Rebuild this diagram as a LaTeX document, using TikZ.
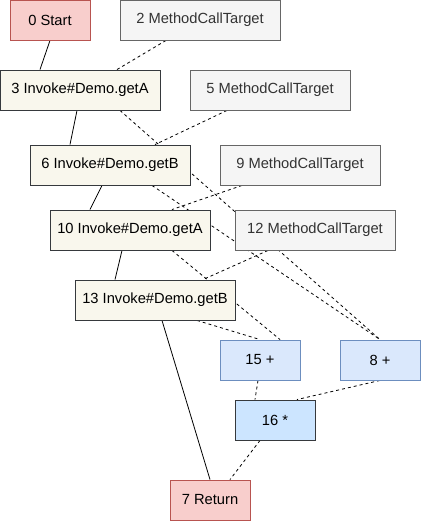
\documentclass[tikz,border=0pt]{standalone}
\usepackage{fontspec}
\setmainfont{Liberation Sans}
\usetikzlibrary{backgrounds}

\definecolor{endfill}{HTML}{F8CECC}
\definecolor{enddraw}{HTML}{B85450}
\definecolor{targetfill}{HTML}{F5F5F5}
\definecolor{targetdraw}{HTML}{666666}
\definecolor{targettext}{HTML}{333333}
\definecolor{invokefill}{HTML}{F9F7ED}
\definecolor{darkdraw}{HTML}{36393D}
\definecolor{opfill}{HTML}{DAE8FC}
\definecolor{opdraw}{HTML}{6C8EBF}
\definecolor{mulfill}{HTML}{CCE5FF}

\begin{document}
\begin{tikzpicture}[x=1pt,y=-1pt,
    box/.style={draw, line width=0.9pt, minimum height=40pt, inner sep=0pt,
      font=\fontsize{14.7}{17}\selectfont},
    endbox/.style={box, fill=endfill, draw=enddraw, minimum width=80pt},
    target/.style={box, fill=targetfill, draw=targetdraw, text=targettext, minimum width=160pt},
    invoke/.style={box, fill=invokefill, draw=darkdraw, minimum width=160pt},
    op/.style={box, fill=opfill, draw=opdraw, minimum width=80pt},
    mul/.style={box, fill=mulfill, draw=darkdraw, minimum width=80pt},
    ctrl/.style={line width=0.8pt},
    data/.style={line width=0.8pt, dash pattern=on 3pt off 3pt}]
    \useasboundingbox (0,0) rectangle (421,521);

    % control flow column
    \node[endbox] (n0) at (50,20) {0 Start};
    \node[invoke] (n3) at (80,90) {3 Invoke\#Demo.getA};
    \node[invoke] (n6) at (110,165) {6 Invoke\#Demo.getB};
    \node[invoke] (n10) at (130,230) {10 Invoke\#Demo.getA};
    \node[invoke] (n13) at (155,300) {13 Invoke\#Demo.getB};
    \node[endbox] (n7) at (210,500) {7 Return};

    % call targets
    \node[target] (n2) at (200,20) {2 MethodCallTarget};
    \node[target] (n5) at (270,90) {5 MethodCallTarget};
    \node[target] (n9) at (300,165) {9 MethodCallTarget};
    \node[target] (n12) at (315,230) {12 MethodCallTarget};

    % arithmetic
    \node[op] (n15) at (260,360) {15 +};
    \node[op] (n8) at (380,360) {8 +};
    \node[mul] (n16) at (275,420) {16 *};

    \begin{pgfonlayer}{background}
      \draw[ctrl] (n0.south) -- ([xshift=-40pt]n3.north);
      \draw[ctrl] ([xshift=-3pt]n3.south) -- ([xshift=-40pt]n6.north);
      \draw[ctrl] ([xshift=-8pt]n6.south) -- ([xshift=-40pt]n10.north);
      \draw[ctrl] ([xshift=-8pt]n10.south) -- ([xshift=-40pt]n13.north);
      \draw[ctrl] ([xshift=7pt]n13.south) -- (n7.north);

      \draw[data] ([xshift=-34pt]n2.south) -- ([xshift=37pt]n3.north);
      \draw[data] ([xshift=-43pt]n5.south) -- ([xshift=45pt]n6.north);
      \draw[data] ([xshift=-58pt]n9.south) -- ([xshift=42pt]n10.north);
      \draw[data] ([xshift=-47pt]n12.south) -- ([xshift=48pt]n13.north);

      \draw[data] ([xshift=40pt]n3.south) -- (n8.north);
      \draw[data] ([xshift=42pt]n6.south) -- (n8.north);
      \draw[data] ([xshift=42pt]n10.south) -- ([xshift=20pt]n15.north);
      \draw[data] ([xshift=42pt]n13.south) -- (n15.north);
      \draw[data] ([xshift=-2pt]n15.south) -- ([xshift=-20pt]n16.north);
      \draw[data] (n8.south) -- ([xshift=22pt]n16.north);
      \draw[data] ([xshift=-15pt]n16.south) -- ([xshift=20pt]n7.north);
    \end{pgfonlayer}
\end{tikzpicture}
\end{document}
